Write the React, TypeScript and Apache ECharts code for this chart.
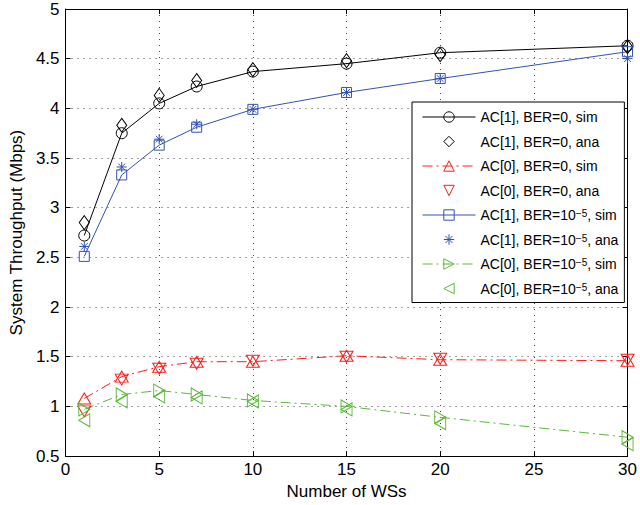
import React, { useEffect, useRef } from 'react';
import * as echarts from 'echarts';

// Number of wireless stations (x values shared by every curve)
const wsCounts = [1, 3, 5, 7, 10, 15, 20, 30];

// Throughput in Mbps
const ac1Ber0Sim = [2.72, 3.75, 4.05, 4.22, 4.37, 4.45, 4.56, 4.63];
const ac1Ber0Ana = [2.85, 3.83, 4.13, 4.28, 4.39, 4.48, 4.54, 4.62];
const ac0Ber0Sim = [1.08, 1.30, 1.40, 1.45, 1.45, 1.51, 1.47, 1.46];
const ac0Ber0Ana = [0.95, 1.27, 1.38, 1.43, 1.46, 1.50, 1.48, 1.47];
const ac1BerSim = [2.51, 3.33, 3.63, 3.81, 3.99, 4.16, 4.30, 4.57];
const ac1BerAna = [2.61, 3.41, 3.69, 3.84, 3.99, 4.16, 4.30, 4.50];
const ac0BerSim = [0.97, 1.12, 1.16, 1.12, 1.06, 1.00, 0.89, 0.69];
const ac0BerAna = [0.86, 1.05, 1.10, 1.09, 1.05, 0.97, 0.83, 0.62];

const seriesNames = [
  'AC[1], BER=0, sim',
  'AC[1], BER=0, ana',
  'AC[0], BER=0, sim',
  'AC[0], BER=0, ana',
  'AC[1], BER=10^-5, sim',
  'AC[1], BER=10^-5, ana',
  'AC[0], BER=10^-5, sim',
  'AC[0], BER=10^-5, ana',
];

const FONT = '"Liberation Sans", Arial, Helvetica, sans-serif';
const BLACK = '#000000';
const RED = '#ff1a1a';
const BLUE = '#3352b0';
const GREEN = '#5cb83a';

const ASTERISK = 'path://M5 0L5 10M0 5L10 5M1.6 1.6L8.4 8.4M8.4 1.6L1.6 8.4';
const DASH_DOT = [10, 4, 2, 4];

const pairs = (vals: number[]) => wsCounts.map((x, i) => [x, vals[i]]);

type Mark = {
  name: string;
  values: number[];
  color: string;
  symbol: string;
  size: number | number[];
  rotate?: number;
  line?: 'solid' | number[];
};

const marks: Mark[] = [
  { name: seriesNames[0], values: ac1Ber0Sim, color: BLACK, symbol: 'circle', size: 11, line: 'solid' },
  { name: seriesNames[1], values: ac1Ber0Ana, color: BLACK, symbol: 'diamond', size: [10, 14] },
  { name: seriesNames[2], values: ac0Ber0Sim, color: RED, symbol: 'triangle', size: [13, 11], line: DASH_DOT },
  { name: seriesNames[3], values: ac0Ber0Ana, color: RED, symbol: 'triangle', size: [13, 11], rotate: 180 },
  { name: seriesNames[4], values: ac1BerSim, color: BLUE, symbol: 'rect', size: 10, line: 'solid' },
  { name: seriesNames[5], values: ac1BerAna, color: BLUE, symbol: ASTERISK, size: 10 },
  { name: seriesNames[6], values: ac0BerSim, color: GREEN, symbol: 'triangle', size: [13, 11], rotate: -90, line: DASH_DOT },
  { name: seriesNames[7], values: ac0BerAna, color: GREEN, symbol: 'triangle', size: [13, 11], rotate: 90 },
];

export default function App() {
  const ref = useRef<HTMLDivElement>(null);

  useEffect(() => {
    if (!ref.current) return;
    const chart = echarts.init(ref.current, undefined, { renderer: 'svg' });

    const dotted = { show: true, lineStyle: { color: '#444', type: [1, 5], width: 1 } };
    const axisLine = { show: true, onZero: false, lineStyle: { color: BLACK, width: 1 } };
    const tick = { show: true, inside: true, length: 5, lineStyle: { color: BLACK } };
    const label = { fontFamily: FONT, fontSize: 17, color: BLACK };

    chart.setOption({
      animation: false,
      backgroundColor: '#ffffff',
      textStyle: { fontFamily: FONT },
      grid: { left: 60, right: 9, top: 9, bottom: 47, containLabel: false },
      xAxis: [
        {
          type: 'value', min: 0, max: 30, interval: 5, position: 'bottom',
          name: 'Number of WSs', nameLocation: 'middle', nameGap: 26,
          nameTextStyle: { fontFamily: FONT, fontSize: 17, color: BLACK },
          axisLine, axisTick: tick, axisLabel: { ...label, margin: 5 }, splitLine: dotted,
        },
        {
          type: 'value', min: 0, max: 30, interval: 5, position: 'top',
          axisLine, axisTick: tick, axisLabel: { show: false }, splitLine: { show: false },
        },
      ],
      yAxis: [
        {
          type: 'value', min: 0.5, max: 5, interval: 0.5, position: 'left',
          name: 'System Throughput (Mbps)', nameLocation: 'middle', nameGap: 38,
          nameTextStyle: { fontFamily: FONT, fontSize: 17, color: BLACK },
          axisLine, axisTick: tick, axisLabel: { ...label, margin: 6 }, splitLine: dotted,
        },
        {
          type: 'value', min: 0.5, max: 5, interval: 0.5, position: 'right',
          axisLine, axisTick: tick, axisLabel: { show: false }, splitLine: { show: false },
        },
      ],
      legend: {
        orient: 'vertical',
        left: 412,
        top: 102,
        padding: [8, 6, 7, 10],
        itemWidth: 53,
        itemHeight: 13,
        itemGap: 10.5,
        selectedMode: false,
        borderColor: BLACK,
        borderWidth: 1,
        backgroundColor: '#ffffff',
        data: marks.map((m) => ({
          name: m.name,
          lineStyle: m.line ? { width: 1, color: m.color } : { width: 0, opacity: 0 },
          itemStyle: { color: 'rgba(0,0,0,0)', borderColor: m.color, borderWidth: 1 },
        })),
        formatter: (name: string) => name.replace('10^-5', '10{sup|\u22125}'),
        textStyle: {
          fontFamily: FONT, fontSize: 14, color: BLACK, lineHeight: 13,
          rich: { sup: { fontFamily: FONT, fontSize: 10, color: BLACK, lineHeight: 10, verticalAlign: 'top', padding: [0, 0, 3, 0] } },
        },
      },
      series: marks.map((m) => ({
        name: m.name,
        type: 'line',
        data: pairs(m.values),
        symbol: m.symbol,
        symbolSize: m.size,
        symbolRotate: m.rotate ?? 0,
        showSymbol: true,
        clip: false,
        itemStyle: { color: 'rgba(0,0,0,0)', borderColor: m.color, borderWidth: 1 },
        lineStyle: m.line
          ? { color: m.color, width: 1, type: m.line }
          : { color: m.color, width: 0, opacity: 0 },
        emphasis: { disabled: true },
        z: 3,
      })),
    });

    return () => chart.dispose();
  }, []);

  return <div ref={ref} style={{ width: 640, height: 505, position: 'absolute', left: 0, top: 0 }} />;
}
